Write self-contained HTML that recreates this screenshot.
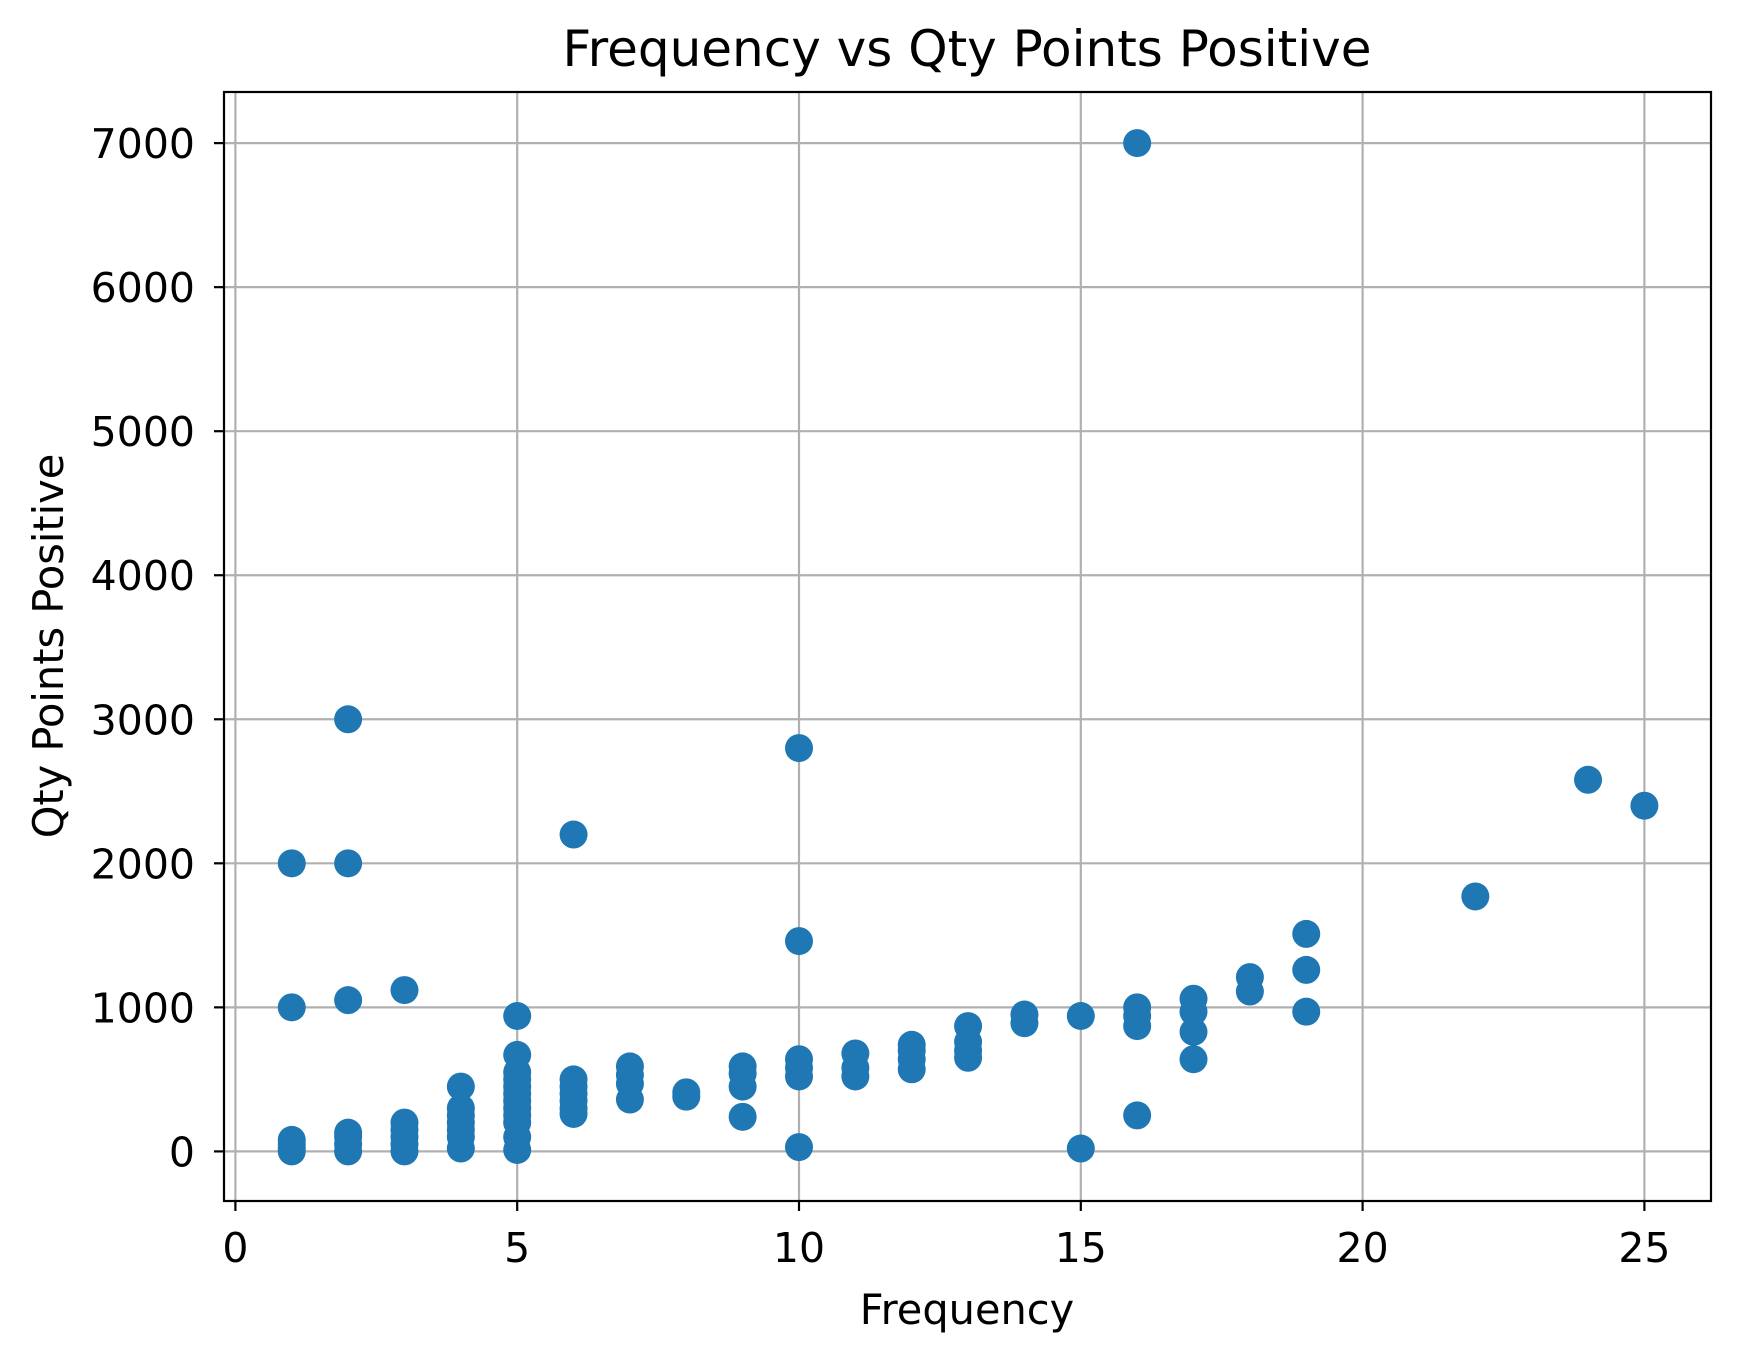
<!DOCTYPE html>
<html><head><meta charset="utf-8"><style>
html,body{margin:0;padding:0;background:#fff;}
svg{display:block;font-family:"DejaVu Sans","Liberation Sans",sans-serif;}
</style></head><body>
<svg id="chart" width="1741" height="1361" viewBox="0 0 1741 1361">
<rect width="1741" height="1361" fill="#fff"/>
<g id="grid"></g>
<g id="points"></g>
<rect x="224" y="92" width="1487" height="1109" fill="none" stroke="#000" stroke-width="2.2"/>
<g id="ticks"></g>
<text x="967" y="66" font-size="50" text-anchor="middle">Frequency vs Qty Points Positive</text>
<text x="967" y="1324" font-size="41.5" text-anchor="middle">Frequency</text>
<text x="0" y="0" font-size="41.5" text-anchor="middle" transform="translate(63,646) rotate(-90)">Qty Points Positive</text>
</svg>
<script>
const freqs = [1,1,1,1,1,1, 2,2,2,2,2,2,2, 3,3,3,3,3,3, 4,4,4,4,4,4,4, 5,5,5,5,5,5,5,5,5,5,5,5, 6,6,6,6,6,6,6, 7,7,7,7, 8,8, 9,9,9,9, 10,10,10,10,10,10, 11,11,11, 12,12,12,12, 13,13,13,13, 14,14, 15,15, 16,16,16,16,16, 17,17,17,17, 18,18, 19,19,19, 22, 24, 25];
const qty = [0,20,50,80,1000,2000, 0,50,100,130,1050,2000,3000, 0,50,100,150,200,1120, 20,100,150,200,250,300,450, 10,100,200,250,300,350,400,450,500,550,670,940, 260,300,350,400,450,500,2200, 360,470,530,590, 380,410, 240,450,540,590, 30,520,580,640,1460,2800, 520,580,680, 570,640,700,740, 650,700,760,870, 890,950, 20,940, 250,870,940,1000,7000, 640,830,970,1060, 1110,1210, 970,1260,1510, 1770, 2580, 2400];
const xTicks = [0,5,10,15,20,25];
const yTicks = [0,1000,2000,3000,4000,5000,6000,7000];
const NS = "http://www.w3.org/2000/svg";
const L=224,R=1711,T=92,B=1201;
function xs(v){return 235.4 + v*56.36;}
function ys(v){return 1151.4 - v*0.14404;}
const grid=document.getElementById('grid'), ticks=document.getElementById('ticks'), pts=document.getElementById('points');
function mk(tag,attrs,parent){const e=document.createElementNS(NS,tag);for(const k in attrs)e.setAttribute(k,attrs[k]);parent.appendChild(e);return e;}
xTicks.forEach(t=>{
  const X=xs(t);
  const g=mk('line',{x1:X,x2:X,y1:T,y2:B,stroke:'#b0b0b0','stroke-width':2.2},grid);
  
  
  const tk=mk('line',{x1:X,x2:X,y1:B,y2:B+10,stroke:'#000','stroke-width':2.2},ticks);
  
  
  const tx=mk('text',{x:X,y:B+61,'font-size':41,'text-anchor':'middle'},ticks);
  tx.textContent=t;
  
  
});
yTicks.forEach(t=>{
  const Y=ys(t);
  const g=mk('line',{x1:L,x2:R,y1:Y,y2:Y,stroke:'#b0b0b0','stroke-width':2.2},grid);
  
  
  const tk=mk('line',{x1:L-10,x2:L,y1:Y,y2:Y,stroke:'#000','stroke-width':2.2},ticks);
  
  
  const tx=mk('text',{x:L-29,y:Y+15,'font-size':41,'text-anchor':'end'},ticks);
  tx.textContent=t;
  
  
});
freqs.forEach((f,i)=>{
  const c=mk('circle',{cx:xs(f),cy:ys(qty[i]),r:14,fill:'#1f77b4'},pts);
  
  
});
</script>
</body></html>
